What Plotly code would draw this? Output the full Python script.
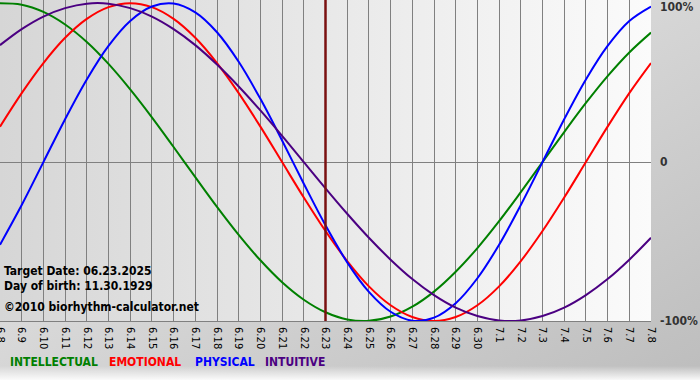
import base64
import plotly.graph_objects as go

# ---- data ----
dates = ["6.8", "6.9", "6.10", "6.11", "6.12", "6.13", "6.14", "6.15", "6.16", "6.17",
         "6.18", "6.19", "6.20", "6.21", "6.22", "6.23", "6.24", "6.25", "6.26", "6.27",
         "6.28", "6.29", "6.30", "7.1", "7.2", "7.3", "7.4", "7.5", "7.6", "7.7", "7.8"]

intellectual = [99.9, 99.0, 94.5, 86.6, 75.6, 61.8, 45.8, 28.2, 9.5, -9.5,
                -28.2, -45.8, -61.8, -75.6, -86.6, -94.5, -99.0, -99.9, -97.2, -91.0,
                -81.5, -69.0, -54.1, -37.2, -18.9, 0.0, 18.9, 37.2, 54.1, 69.0, 81.5]

emotional = [22.3, 43.4, 62.3, 78.2, 90.1, 97.5, 100.0, 97.5, 90.1, 78.2,
             62.3, 43.4, 22.3, 0.0, -22.3, -43.4, -62.3, -78.2, -90.1, -97.5,
             -100.0, -97.5, -90.1, -78.2, -62.3, -43.4, -22.3, 0.0, 22.3, 43.4, 62.3]

physical = [-52.0, -27.0, 0.0, 27.0, 52.0, 73.1, 88.8, 97.9, 99.8, 94.2,
            81.7, 63.1, 39.8, 13.6, -13.6, -39.8, -63.1, -81.7, -94.2, -99.8,
            -97.9, -88.8, -73.1, -52.0, -27.0, 0.0, 27.0, 52.0, 73.1, 88.8, 97.9]

intuitive = [73.6, 83.7, 91.6, 96.9, 99.7, 99.7, 96.9, 91.6, 83.7, 73.6,
             61.4, 47.6, 32.5, 16.5, 0.0, -16.5, -32.5, -47.6, -61.4, -73.6,
             -83.7, -91.6, -96.9, -99.7, -99.7, -96.9, -91.6, -83.7, -73.6, -61.4, -47.6]

series_names = ["INTELLECTUAL", "EMOTIONAL", "PHYSICAL", "INTUITIVE"]
series_colors = ["#008000", "#ff0000", "#0000ff", "#4b0082"]
target_date = "6.23"
info_lines = ["Target Date: 06.23.2025", "Day of birth: 11.30.1929", "\u00a92010 biorhythm-calculator.net"]
y_labels = ["100%", "0", "-100%"]
y_label_vals = [100, 0, -100]

# ---- layout geometry ----
W, H = 700, 380
PL, PR, PT, PB = 0, 49, 0, 59
pw, ph = W - PL - PR, H - PT - PB

fig = go.Figure()
for name, vals, col in zip(series_names, [intellectual, emotional, physical, intuitive], series_colors):
    fig.add_trace(go.Scatter(x=dates, y=vals, mode="lines", name=name,
                             line=dict(color=col, width=2, shape="spline", smoothing=1.0),
                             hoverinfo="skip"))

# background gradients via inline SVG
svg = f'''<svg xmlns="http://www.w3.org/2000/svg" width="{W}" height="{H}">
<defs>
<linearGradient id="pg" x1="0" y1="0" x2="1" y2="1">
<stop offset="0" stop-color="#f2f2f2"/><stop offset="0.45" stop-color="#d8d8d8"/><stop offset="1" stop-color="#bdbdbd"/>
</linearGradient>
<linearGradient id="ag" x1="0" y1="0" x2="1" y2="0">
<stop offset="0" stop-color="#d6d6d6"/><stop offset="1" stop-color="#fbfbfb"/>
</linearGradient>
<linearGradient id="bg" x1="0" y1="0" x2="0" y2="1">
<stop offset="0" stop-color="#ffffff" stop-opacity="0"/><stop offset="1" stop-color="#ffffff" stop-opacity="0.9"/>
</linearGradient>
</defs>
<rect x="0" y="0" width="{W}" height="{H}" fill="url(#pg)"/>
<rect x="0" y="{H-14}" width="{W}" height="14" fill="url(#bg)"/>
<rect x="0" y="0" width="{pw}" height="{ph}" fill="url(#ag)"/>
</svg>'''
src = "data:image/svg+xml;base64," + base64.b64encode(svg.encode()).decode()
fig.add_layout_image(dict(source=src, xref="paper", yref="paper", x=0, y=1,
                          sizex=W / pw, sizey=H / ph, xanchor="left", yanchor="top",
                          sizing="stretch", layer="below"))

# target date marker (category index of the target date)
ti = dates.index(target_date)
fig.add_shape(type="line", xref="x", yref="paper", x0=ti, x1=ti, y0=0, y1=1,
              line=dict(color="#7a1010", width=2.5), layer="above")

font_b = "DejaVu Sans Condensed, DejaVu Sans, sans-serif"
ann = []
for i, t in enumerate(info_lines):
    ann.append(dict(text=f"<b>{t}</b>", xref="paper", yref="paper", x=2 / pw,
                    y=1 - [271, 286, 307][i] / ph, xanchor="left", yanchor="middle",
                    showarrow=False, font=dict(family=font_b, size=12, color="#000000")))
for t, v, ys in zip(y_labels, y_label_vals, [-4, 0, 0]):
    ann.append(dict(text=f"<b>{t}</b>", xref="paper", yref="y", x=1, y=v, xshift=7, yshift=ys,
                    xanchor="left", yanchor="middle", showarrow=False,
                    font=dict(family=font_b, size=12, color="#333333")))
leg_x = [8, 107, 193, 263]
for t, c, px in zip(series_names, series_colors, leg_x):
    ann.append(dict(text=f"<b>{t}</b>", xref="paper", yref="paper", x=px / pw, y=1 - 362 / ph,
                    xanchor="left", yanchor="middle", showarrow=False,
                    font=dict(family=font_b, size=12, color=c)))

fig.update_layout(
    width=W, height=H, margin=dict(l=PL, r=PR, t=PT, b=PB, pad=0, autoexpand=False),
    paper_bgcolor="rgba(0,0,0,0)", plot_bgcolor="rgba(0,0,0,0)",
    showlegend=False, annotations=ann,
    xaxis=dict(type="category", range=[0, 30], showgrid=True, gridcolor="#808080", gridwidth=1,
               tickangle=90, tickfont=dict(family="DejaVu Sans, sans-serif", size=10, color="#000"),
               ticks="", ticklabelstandoff=3, showline=True, linecolor="#808080", linewidth=1,
               zeroline=False, automargin=False, fixedrange=True),
    yaxis=dict(range=[-100, 102], showgrid=False, zeroline=True, zerolinecolor="#808080",
               zerolinewidth=1, showticklabels=False, ticks="", automargin=False, fixedrange=True),
)

fig.write_html("out.html", config={"displayModeBar": False},
               post_script="document.body.style.margin='0';document.body.style.overflow='hidden';")
